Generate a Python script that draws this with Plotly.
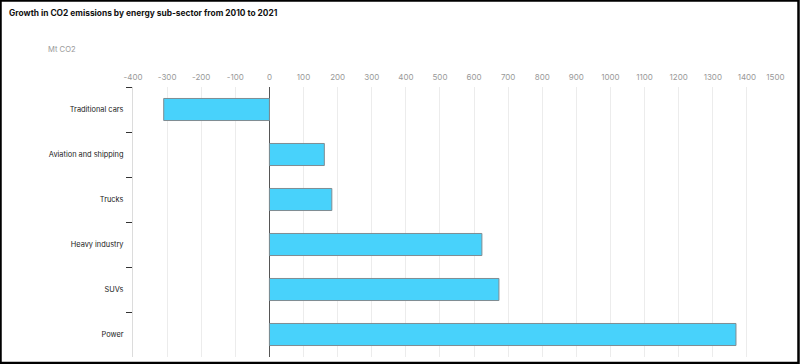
import plotly.graph_objects as go

categories = ["Traditional cars", "Aviation and shipping", "Trucks", "Heavy industry", "SUVs", "Power"]
values = [-310, 161, 183, 623, 673, 1368]
tick_vals = list(range(-400, 1501, 100))
tick_text = [str(v) for v in tick_vals]
tick_text[-1] = tick_text[-1] + "\u00a0" * 5

W, H = 800, 364
L, R, T, B = 133, 19, 87, 7
pw, ph = W - L - R, H - T - B

def px_x(x):
    return (x - L) / pw

def px_y(y):
    return (H - B - y) / ph

fig = go.Figure(go.Bar(
    x=values, y=categories, orientation="h",
    marker=dict(color="#48D2FB", line=dict(color="#7f8c92", width=1)),
    width=0.49,
))

fig.update_layout(
    width=W, height=H,
    margin=dict(l=L, r=R, t=T, b=B),
    paper_bgcolor="white", plot_bgcolor="white",
    font=dict(family="Inter, sans-serif", size=8, color="#333"),
    showlegend=False,
    bargap=0.5,
    title=dict(text="<b>Growth in CO2 emissions by energy sub-sector from 2010 to 2021</b>",
               x=9 / W, xanchor="left", xref="container",
               y=1 - 13 / H, yanchor="middle", yref="container",
               font=dict(family="Inter, sans-serif", size=8.4, color="#111")),
    xaxis=dict(range=[-400, 1500], side="top", tickvals=tick_vals, ticktext=tick_text,
               showgrid=True, gridcolor="#ececec", gridwidth=1,
               zeroline=True, zerolinecolor="#555", zerolinewidth=1,
               showline=False, ticks="", tickfont=dict(size=8, color="#999"),
               ticklabelstandoff=4, automargin=False),
    yaxis=dict(autorange="reversed", type="category", showgrid=False,
               showline=True, linecolor="#dcdcdc", linewidth=1,
               ticks="outside", tickson="boundaries", ticklen=6, tickcolor="#333",
               tickfont=dict(size=7.4, color="#222"), ticklabelstandoff=7,
               automargin=False),
    annotations=[dict(text="Mt CO2", xref="paper", yref="paper",
                      x=px_x(46), y=px_y(50), xanchor="left", yanchor="middle",
                      showarrow=False, font=dict(size=7.6, color="#999"))],
    shapes=[dict(type="rect", xref="paper", yref="paper",
                 x0=px_x(0.5), x1=px_x(W - 1.5), y0=px_y(H - 1), y1=px_y(0.5),
                 line=dict(color="black", width=2.5), fillcolor="rgba(0,0,0,0)")],
)

fig.write_html("out.html", config={"displayModeBar": False},
               post_script="document.body.style.margin='0';")
